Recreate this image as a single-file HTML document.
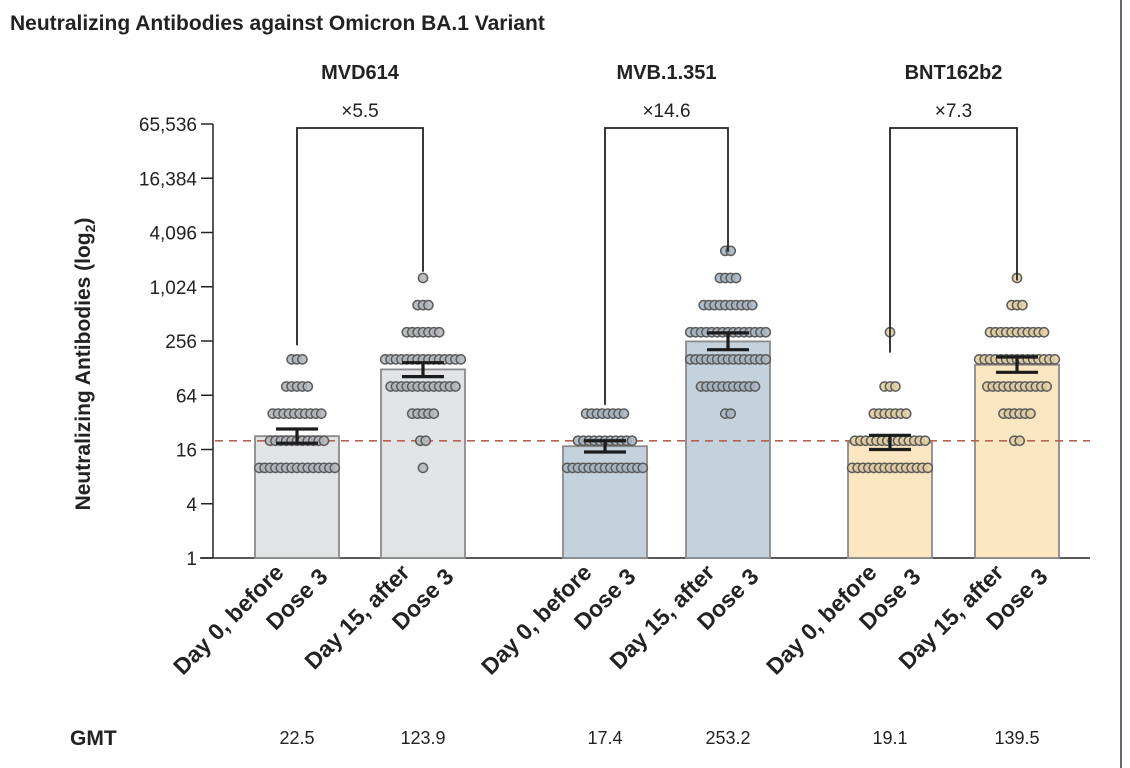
<!DOCTYPE html>
<html><head><meta charset="utf-8"><style>
html,body{margin:0;padding:0;background:#fff;}
svg{display:block;font-family:"Liberation Sans","DejaVu Sans",sans-serif;}
</style></head><body>
<svg id="chart" width="1130" height="768" viewBox="0 0 1130 768">
<text x="10" y="30" font-size="21" font-weight="bold" fill="#222">Neutralizing Antibodies against Omicron BA.1 Variant</text>
<line x1="1121" y1="0" x2="1121" y2="768" stroke="#333" stroke-width="1.5"/>
<text transform="translate(90,364) rotate(-90)" text-anchor="middle" font-size="21" font-weight="bold" fill="#222">Neutralizing Antibodies (log<tspan font-size="14" dy="5">2</tspan><tspan dy="-5">)</tspan></text>
<text x="70" y="745" font-size="21" font-weight="bold" fill="#222">GMT</text>
<g id="g"></g>
</svg>
<script>
const groups = ["MVD614","MVB.1.351","BNT162b2"];
const foldLabels = ["×5.5","×14.6","×7.3"];
const gmt = [22.5,123.9,17.4,253.2,19.1,139.5];
const gmtLabels = ["22.5","123.9","17.4","253.2","19.1","139.5"];
const ciLow = [18.8,103,15,205,16,115];
const ciHigh = [27,147,20,315,23,170];
const levels = [10,20,40,80,160,320,640,1280,2560];
const counts = [
 [15,11,10,5,3,0,0,0,0],
 [1,2,5,13,15,7,3,1,0],
 [15,11,8,0,0,0,0,0,0],
 [0,0,2,11,15,15,10,4,2],
 [15,14,7,3,0,1,0,0,0],
 [0,2,6,12,15,11,3,1,0]
];
const yTicks = [1,4,16,64,256,1024,4096,16384,65536];
const yTickLabels = ["1","4","16","64","256","1,024","4,096","16,384","65,536"];
const threshold = 20;
const bracketLeftEnd = [230,50,190];
const bracketRightEnd = [1500,2500,1200];

const NS="http://www.w3.org/2000/svg";
const g=document.getElementById('g');
function el(t,a,p){const e=document.createElementNS(NS,t);for(const k in a)e.setAttribute(k,a[k]);(p||g).appendChild(e);return e;}
const y=v=>558-Math.log2(v)*27.125;
const centers=[297,423,605,728,890,1017];
const x=i=>centers[i];
const barW=84;
const fills=["#e2e3e5","#e2e3e5","#c3d2dc","#c3d2dc","#fbe6c2","#fbe6c2"];
const dotFill=["#b4b8bc","#b4b8bc","#a8b7c3","#a8b7c3","#e3cfa4","#e3cfa4"];

const ax=el('line',{x1:213,y1:124,x2:213,y2:558,stroke:'#222','stroke-width':1.5});


const bl=el('line',{x1:200,y1:558,x2:1090,y2:558,stroke:'#222','stroke-width':1.5});


yTicks.forEach((v,i)=>{
 const t=el('line',{x1:201,y1:y(v),x2:213,y2:y(v),stroke:'#222','stroke-width':1.5});
 
 
 const l=el('text',{x:197,y:y(v)+7,'text-anchor':'end','font-size':19,fill:'#222'});
 l.textContent=yTickLabels[i];
 
 
});

for(let i=0;i<6;i++){
 const r=el('rect',{x:x(i)-barW/2,y:y(gmt[i]),width:barW,height:558-y(gmt[i]),fill:fills[i],stroke:'#8a8a8a','stroke-width':1.8});
 
 
}
const th=el('line',{x1:215,y1:y(threshold),x2:1090,y2:y(threshold),stroke:'#b5644f','stroke-width':1.6,'stroke-dasharray':'8 6'});


for(let i=0;i<6;i++){
 counts[i].forEach((n,j)=>{
  const sp=5.4;
  for(let k=0;k<n;k++){
   const cx=x(i)-(n-1)*sp/2+k*sp;
   const c=el('circle',{cx:cx,cy:y(levels[j]),r:4.6,fill:dotFill[i],stroke:'#5a5a5a','stroke-width':1.5,'fill-opacity':0.9});
   
   
  }
 });
}
for(let i=0;i<6;i++){
 const e=el('path',{d:`M${x(i)-21},${y(ciHigh[i])}H${x(i)+21}M${x(i)},${y(ciHigh[i])}V${y(ciLow[i])}M${x(i)-21},${y(ciLow[i])}H${x(i)+21}`,stroke:'#1c1c1c','stroke-width':3.2,fill:'none'});
 
 
}
for(let gi=0;gi<3;gi++){
 const a=x(gi*2),b=x(gi*2+1);
 const p=el('path',{d:`M${a},${y(bracketLeftEnd[gi])}V128H${b}V${y(bracketRightEnd[gi])}`,stroke:'#222','stroke-width':1.8,fill:'none'});
 
 
 const f=el('text',{x:(a+b)/2,y:117,'text-anchor':'middle','font-size':19,fill:'#222'});
 f.textContent=foldLabels[gi];
 
 
 const t=el('text',{x:(a+b)/2,y:79,'text-anchor':'middle','font-size':20,'font-weight':'bold',fill:'#222'});
 t.textContent=groups[gi];
 
 
}
for(let i=0;i<6;i++){
 const l1=i%2?"Day 15, after":"Day 0, before";
 const a=el('text',{transform:`translate(${x(i)-12},574) rotate(-45)`,'text-anchor':'end','font-size':23,'font-weight':'bold',fill:'#222'});
 a.textContent=l1;
 
 
 const b=el('text',{transform:`translate(${x(i)+32},578) rotate(-45)`,'text-anchor':'end','font-size':23,'font-weight':'bold',fill:'#222'});
 b.textContent="Dose 3";
 
 
 const gm=el('text',{x:x(i),y:744,'text-anchor':'middle','font-size':18,fill:'#222'});
 gm.textContent=gmtLabels[i];
 
 
}
</script>
</body></html>
